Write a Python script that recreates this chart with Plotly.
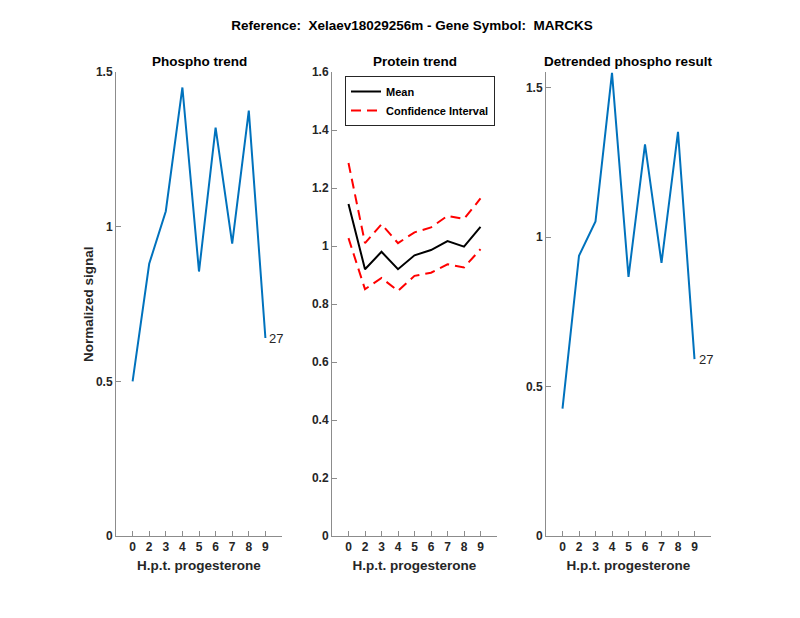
import plotly.graph_objects as go

hours = ["0", "2", "3", "4", "5", "6", "7", "8", "9"]

phospho = [0.50, 0.88, 1.05, 1.45, 0.855, 1.32, 0.945, 1.375, 0.64]

protein_mean = [1.145, 0.92, 0.98, 0.92, 0.968, 0.986, 1.017, 0.998, 1.066]
protein_upper = [1.286, 1.01, 1.075, 1.01, 1.047, 1.064, 1.104, 1.093, 1.164]
protein_lower = [1.027, 0.851, 0.89, 0.845, 0.897, 0.908, 0.937, 0.926, 0.989]

detrended = [0.426, 0.938, 1.053, 1.55, 0.867, 1.311, 0.914, 1.353, 0.592]

peptide_label = "27"

# page body has an 8px margin, so the figure is a bit smaller and shifted
OFF = 8
W, H = 800 - OFF, 618 - OFF
BLUE = "#0072BD"
FONT = "Liberation Sans, Arial, sans-serif"
TXT = "#262626"


def px_x(p):
    return (p - OFF) / W


def px_y(p):
    return 1 - (p - OFF) / H


fig = go.Figure()

fig.add_trace(go.Scatter(x=hours, y=phospho, mode="lines", line=dict(color=BLUE, width=2),
                         xaxis="x", yaxis="y", showlegend=False))
fig.add_trace(go.Scatter(x=hours, y=protein_mean, mode="lines", name="Mean",
                         line=dict(color="black", width=2), xaxis="x2", yaxis="y2"))
fig.add_trace(go.Scatter(x=hours, y=protein_upper, mode="lines", name="Confidence Interval",
                         legendgroup="ci", line=dict(color="red", width=2, dash="10px,6px"),
                         xaxis="x2", yaxis="y2"))
fig.add_trace(go.Scatter(x=hours, y=protein_lower, mode="lines", name="Confidence Interval",
                         legendgroup="ci", showlegend=False,
                         line=dict(color="red", width=2, dash="10px,6px"),
                         xaxis="x2", yaxis="y2"))
fig.add_trace(go.Scatter(x=hours, y=detrended, mode="lines", line=dict(color=BLUE, width=2),
                         xaxis="x3", yaxis="y3", showlegend=False))

ydom = [px_y(536), px_y(72)]
panels = [
    (116, 282, [0, 1.5], [0, 0.5, 1, 1.5], ["0", "0.5", "1", "1.5"]),
    (332, 497, [0, 1.6], [0, 0.2, 0.4, 0.6, 0.8, 1, 1.2, 1.4, 1.6],
     ["0", "0.2", "0.4", "0.6", "0.8", "1", "1.2", "1.4", "1.6"]),
    (546, 711, [0, 1.553], [0, 0.5, 1, 1.5], ["0", "0.5", "1", "1.5"]),
]

axis_common = dict(showline=True, linecolor="#8c8c8c", linewidth=1, ticks="inside",
                   ticklen=5, tickcolor="#8c8c8c", showgrid=False, zeroline=False,
                   automargin=False,
                   tickfont=dict(family=FONT, size=12, color=TXT, weight="bold"))

layout_axes = {}
for i, (x0, x1, yr, yt, ytt) in enumerate(panels):
    sfx = "" if i == 0 else str(i + 1)
    layout_axes["xaxis" + sfx] = dict(
        domain=[px_x(x0), px_x(x1)], anchor="y" + sfx, type="category",
        range=[-1, len(hours)], tickvals=hours, ticktext=hours,
        title=dict(text="H.p.t. progesterone", standoff=7,
                   font=dict(family=FONT, size=13.5, color=TXT, weight="bold")),
        **axis_common)
    layout_axes["yaxis" + sfx] = dict(
        domain=ydom, anchor="x" + sfx, range=yr, tickvals=yt, ticktext=ytt,
        **axis_common)

fig.update_layout(**layout_axes)

titles = ["Phospho trend", "Protein trend", "Detrended phospho result"]
annotations = []
for (x0, x1, *_), t in zip(panels, titles):
    annotations.append(dict(text=t, x=px_x((x0 + x1) / 2), y=px_y(61), xref="paper", yref="paper",
                            xanchor="center", yanchor="middle", showarrow=False,
                            font=dict(family=FONT, size=13.5, color="black", weight="bold")))

annotations.append(dict(text="Normalized signal", x=px_x(88), y=px_y(304), xref="paper", yref="paper",
                        xanchor="center", yanchor="middle", textangle=-90, showarrow=False,
                        font=dict(family=FONT, size=13.5, color=TXT, weight="bold")))

last = len(hours) - 1
annotations.append(dict(text=peptide_label, x=last, y=phospho[-1], xref="x", yref="y",
                        xanchor="left", yanchor="middle", xshift=2, showarrow=False,
                        font=dict(family=FONT, size=13, color=TXT)))
annotations.append(dict(text=peptide_label, x=last, y=detrended[-1], xref="x3", yref="y3",
                        xanchor="left", yanchor="middle", xshift=2, showarrow=False,
                        font=dict(family=FONT, size=13, color=TXT)))

fig.update_layout(
    width=W, height=H,
    margin=dict(l=0, r=0, t=0, b=0, autoexpand=False),
    paper_bgcolor="white", plot_bgcolor="white",
    title=dict(text="Reference:  Xelaev18029256m - Gene Symbol:  MARCKS",
               x=px_x(412), xanchor="center", y=px_y(25), yanchor="middle", yref="container",
               font=dict(family=FONT, size=13.5, color="black", weight="bold")),
    legend=dict(x=px_x(345), y=px_y(76), xanchor="left", yanchor="top",
                bgcolor="white", bordercolor="#262626", borderwidth=1,
                font=dict(family=FONT, size=11, color="black", weight="bold"),
                itemwidth=30, tracegroupgap=0),
    annotations=annotations,
)

fig.write_html("out.html")
